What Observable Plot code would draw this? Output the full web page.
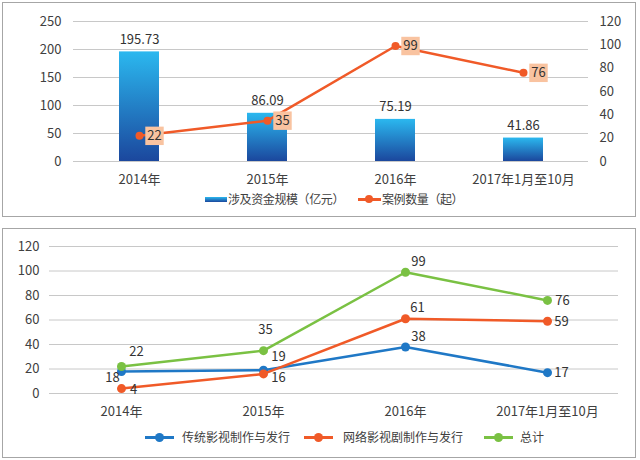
<!DOCTYPE html>
<html>
<head>
<meta charset="utf-8">
<script src="https://cdn.jsdelivr.net/npm/d3@7"></script>
<script src="https://cdn.jsdelivr.net/npm/@observablehq/plot@0.6"></script>
<style>
  html, body { margin: 0; padding: 0; background: #fff; }
  body { width: 640px; height: 460px; position: relative; overflow: hidden;
         font-family: "Noto Sans CJK SC", sans-serif; color: #404040; }
  .abs { position: absolute; }
  .panel { position: absolute; border: 1px solid #a6a6a6; box-sizing: border-box; pointer-events: none; }
  .lg { position: absolute; font-size: 12px; line-height: 16px; white-space: nowrap; color: #404040; }
</style>
</head>
<body>
<div id="top" class="abs" style="left:0;top:0;"></div>
<div id="bottom" class="abs" style="left:0;top:228px;"></div>
<div class="panel" style="left:2px;top:2px;width:634px;height:215px;"></div>
<div class="panel" style="left:2px;top:228px;width:634px;height:230px;"></div>
<div id="legends"></div>
<script>
// ---------- data ----------
const categories = ["2014年", "2015年", "2016年", "2017年1月至10月"];
const fundScale = [195.73, 86.09, 75.19, 41.86];          // 涉及资金规模（亿元）
const caseCount = [22, 35, 99, 76];                       // 案例数量（起）
const leftTicks = [0, 50, 100, 150, 200, 250];
const rightTicks = [0, 20, 40, 60, 80, 100, 120];

const traditional = [18, 19, 38, 17];                     // 传统影视制作与发行
const online = [4, 16, 61, 59];                           // 网络影视剧制作与发行
const total = [22, 35, 99, 76];                           // 总计
const bottomTicks = [0, 20, 40, 60, 80, 100, 120];

// ---------- styles ----------
const FONT = "'Noto Sans CJK SC', sans-serif";
const ORANGE = "#f05a28", BLUE = "#1f78c6", GREEN = "#7ac143", BOX = "#f9c3a0";
const k = 250 / 120;

// ---------- top chart ----------
const topRows = categories.map((c, i) => ({cat: c, fund: fundScale[i], count: caseCount[i]}));

const defsMark = () => {
  const defs = document.createElementNS("http://www.w3.org/2000/svg", "defs");
  defs.innerHTML = '<linearGradient id="barGrad" x1="0" y1="0" x2="0" y2="1">' +
    '<stop offset="0" stop-color="#2bb8ef"/><stop offset="1" stop-color="#1b479d"/></linearGradient>';
  return defs;
};

const topChart = Plot.plot({
  width: 640, height: 190,
  marginLeft: 73, marginRight: 52, marginTop: 21, marginBottom: 29,
  style: {background: "transparent", fontFamily: FONT, fontSize: "13px", color: "#404040", overflow: "visible"},
  x: {type: "band", domain: categories, paddingInner: 0.69, paddingOuter: 0.345},
  y: {domain: [0, 250]},
  marks: [
    defsMark,
    Plot.gridY(leftTicks, {stroke: "#c8c8c8", strokeOpacity: 1}),
    Plot.axisY({ticks: leftTicks, tickSize: 0, tickPadding: 12, fontSize: 13, label: null}),
    Plot.axisY({anchor: "right", ticks: rightTicks.map(v => v * k), tickFormat: d => String(Math.round(d / k)),
                tickSize: 0, tickPadding: 11, fontSize: 13, label: null}),
    Plot.axisX({tickSize: 0, tickPadding: 13, fontSize: 13, label: null}),
    Plot.barY(topRows, {x: "cat", y: "fund", fill: "url(#barGrad)"}),
    Plot.text(topRows, {x: "cat", y: "fund", text: d => d.fund.toFixed(2), dy: -12.5, fill: "#333", fontSize: 13}),
    Plot.line(topRows, {x: "cat", y: d => d.count * k, stroke: ORANGE, strokeWidth: 2.5}),
    Plot.dot(topRows, {x: "cat", y: d => d.count * k, r: 4, fill: ORANGE}),
    Plot.dot(topRows, {x: "cat", y: d => d.count * k, symbol: "square", r: 10.4, fill: BOX, dx: 15}),
    Plot.text(topRows, {x: "cat", y: d => d.count * k, text: d => String(d.count), dx: 15, fill: "#333", fontSize: 13})
  ]
});
document.getElementById("top").appendChild(topChart);

// ---------- bottom chart ----------
const series = [
  {name: "传统影视制作与发行", values: traditional, color: BLUE},
  {name: "网络影视剧制作与发行", values: online, color: ORANGE},
  {name: "总计", values: total, color: GREEN}
];
// label offsets (dx, dy) per series / point — styling only
const labelOffsets = [
  [[-9, 6], [15, -13], [13, -10], [14, 0]],
  [[12, 1], [15, 4], [12, -11], [14, 1]],
  [[15, -15], [2, -21], [13, -10], [15, 0]]
];

const bottomMarks = [
  Plot.gridY(bottomTicks, {stroke: "#c8c8c8", strokeOpacity: 1}),
  Plot.axisY({ticks: bottomTicks, tickSize: 0, tickPadding: 10, fontSize: 13, label: null}),
  Plot.axisX({tickSize: 0, tickPadding: 13, fontSize: 13, label: null})
];
series.forEach(s => {
  const rows = categories.map((c, i) => ({cat: c, v: s.values[i]}));
  bottomMarks.push(Plot.line(rows, {x: "cat", y: "v", stroke: s.color, strokeWidth: 2.5}));
  bottomMarks.push(Plot.dot(rows, {x: "cat", y: "v", r: 4.5, fill: s.color}));
});
series.forEach((s, si) => {
  categories.forEach((c, i) => {
    bottomMarks.push(Plot.text([{cat: c, v: s.values[i]}], {
      x: "cat", y: "v", text: d => String(d.v),
      dx: labelOffsets[si][i][0], dy: labelOffsets[si][i][1], fill: "#333", fontSize: 13
    }));
  });
});

const bottomChart = Plot.plot({
  width: 640, height: 195,
  marginLeft: 49, marginRight: 22, marginTop: 18, marginBottom: 30,
  style: {background: "transparent", fontFamily: FONT, fontSize: "13px", color: "#404040", overflow: "visible"},
  x: {type: "point", domain: categories, padding: 0.5},
  y: {domain: [0, 120]},
  marks: bottomMarks
});
document.getElementById("bottom").appendChild(bottomChart);

// ---------- legends ----------
const L = document.getElementById("legends");
function add(html) { L.insertAdjacentHTML("beforeend", html); }
// top legend
add('<div class="abs" style="left:205px;top:197px;width:22px;height:5px;background:linear-gradient(#2bb8ef,#1b479d);"></div>');
add('<div class="lg" style="left:228px;top:191px;letter-spacing:-0.4px;">涉及资金规模（亿元）</div>');
add('<div class="abs" style="left:358px;top:198px;width:23px;height:2.5px;background:' + ORANGE + ';"></div>');
add('<div class="abs" style="left:365px;top:195px;width:8px;height:8px;border-radius:50%;background:' + ORANGE + ';"></div>');
add('<div class="lg" style="left:382px;top:191px;letter-spacing:-0.4px;">案例数量（起）</div>');
// bottom legend
const bl = [{x: 145, tx: 182}, {x: 304, tx: 343}, {x: 484, tx: 520}];
series.forEach((s, i) => {
  add('<div class="abs" style="left:' + bl[i].x + 'px;top:436px;width:29px;height:2.5px;background:' + s.color + ';"></div>');
  add('<div class="abs" style="left:' + (bl[i].x + 10) + 'px;top:433px;width:9px;height:9px;border-radius:50%;background:' + s.color + ';"></div>');
  add('<div class="lg" style="left:' + bl[i].tx + 'px;top:429px;">' + s.name + '</div>');
});
</script>
</body>
</html>
